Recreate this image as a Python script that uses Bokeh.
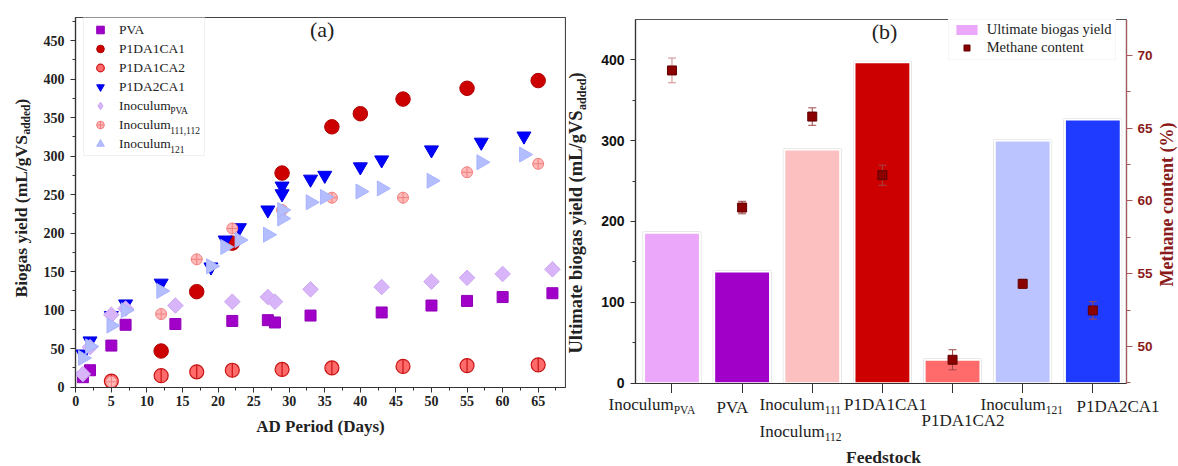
import numpy as np
from bokeh.plotting import figure
from bokeh.models import (ColumnDataSource, Range1d, LinearAxis, SingleIntervalTicker,
                          FixedTicker, Legend, LegendItem, Label)
from bokeh.layouts import row, column
from bokeh.embed import file_html
from bokeh.resources import INLINE

# ---------------- Panel (a) data: cumulative biogas yield ----------------
pva_day = [1, 2, 5, 7, 14, 22, 27, 28, 33, 43, 50, 55, 60, 67]
pva_yield = [13, 22, 54, 81, 82, 86, 87, 84, 93, 97, 106, 112, 117, 122]

p1da1ca1_day = [12, 17, 22, 29, 36, 40, 46, 55, 65]
p1da1ca1_yield = [47, 124, 187, 278, 338, 355, 374, 388, 398]

p1da1ca2_day = [5, 12, 17, 22, 29, 36, 46, 55, 65]
p1da1ca2_yield = [8, 15, 20, 22, 23, 25, 27, 28, 29]

p1da2ca1_day = [1, 2, 5, 7, 12, 19, 21, 23, 27, 29, 29, 33, 35, 40, 43, 50, 57, 63]
p1da2ca1_yield = [43, 60, 93, 108, 135, 156, 191, 207, 230, 261, 251, 270, 275, 286, 295, 308, 318, 326]

inocpva_day = [1, 2, 5, 7, 14, 22, 27, 28, 33, 43, 50, 55, 60, 67]
inocpva_yield = [17, 52, 94, 102, 106, 111, 117, 111, 127, 130, 137, 142, 147, 153]

inoc111_day = [5, 12, 17, 22, 29, 36, 46, 55, 65]
inoc111_yield = [7, 95, 166, 206, 230, 246, 246, 279, 290]

inoc121_day = [1, 2, 5, 7, 12, 19, 21, 23, 27, 29, 29, 33, 35, 40, 43, 50, 57, 63]
inoc121_yield = [38, 53, 80, 100, 125, 157, 182, 191, 198, 219, 230, 240, 247, 254, 258, 268, 292, 302]

# ---------------- Panel (b) data ----------------
feedstock = ["Inoculum_PVA", "PVA", "Inoculum_111/112", "P1DA1CA1", "P1DA1CA2", "Inoculum_121", "P1DA2CA1"]
ultimate_yield = [186, 138, 289, 397, 29, 300, 326]
methane = [68.97, 59.55, 65.8, 61.77, 49.09, 54.31, 52.48]
methane_err = [0.85, 0.43, 0.6, 0.69, 0.69, 0.3, 0.6]

# tick label texts (main part, subscript part)
xb_main = ["Inoculum", "PVA", "Inoculum", "P1DA1CA1", "P1DA1CA2", "Inoculum", "P1DA2CA1", "Inoculum"]
xb_sub = ["PVA", "", "111", "", "", "121", "", "112"]
legend_a_labels = ["PVA", "P1DA1CA1", "P1DA1CA2", "P1DA2CA1", "Inoculum", "Inoculum", "Inoculum"]
legend_a_subs = ["PVA", "111,112", "121"]

# ---------------- layout constants (pixels, window coordinates) ----------------
W, H = 1178, 466
A_LEFT, A_TOP, A_W, A_H = 75, 17, 490, 370
B_LEFT, B_TOP, B_W, B_H = 634, 19, 495, 364
YL1_W = 32                 # text strip left of panel (a)
YL2_X0, YL2_W = 566, 32    # text strip left of panel (b)
B_BOT = 10                 # bottom border of panel (b) (tick marks)
R_X0 = 1155                # text strip right of panel (b)
XL2_Y0 = B_TOP + B_H + B_BOT   # text strip below panel (b)
SERIF = "Liberation Serif"
SANS = "Liberation Sans"
INK = "#222222"
SHIFT = {"alphabetic": 0.27, "middle": 0.18}

# tick label placement (window px: start x, baseline y)
xb_pos_x = [608, 716, 759, 843.5, 921, 980, 1076, 759]
xb_pos_y = [408.5, 412, 408.5, 409, 424.5, 409, 410.5, 435.5]
INOC_W = 65.2  # width of "Inoculum" at 17px serif


def text_fig(w, h, top=0, bottom=0):
    f = figure(width=w, height=h, x_range=Range1d(0, w), y_range=Range1d(0, h - top - bottom),
               min_border=0, min_border_left=0, min_border_right=0, min_border_top=top,
               min_border_bottom=bottom, x_axis_location=None, y_axis_location=None,
               toolbar_location=None, output_backend="svg")
    f.outline_line_color = None
    f.grid.visible = False
    f.background_fill_color = "white"
    f.border_fill_color = "white"
    return f


def lab(p, x0, fbottom, xr, yr, text, size, bold=False, color=INK, rotated=False,
        align="left", baseline="alphabetic", font=SERIF, level="annotation"):
    """Place a text at window position (xr, yr) inside figure p whose frame starts at x0
    and whose frame bottom is at window y = fbottom."""
    d = SHIFT[baseline] * size
    if rotated:
        xr = xr - d
    else:
        yr = yr - d
    p.add_layout(Label(x=xr - x0, y=fbottom - yr, x_units="screen", y_units="screen",
                       text=text, text_font=font, text_font_size=f"{size}px",
                       text_font_style="bold" if bold else "normal", text_color=color,
                       angle=np.pi / 2 if rotated else 0.0, text_align=align,
                       text_baseline=baseline, level=level))


def style_axis(ax, color="#333333", label_font=SERIF, label_size="14px", label_color=INK):
    ax.axis_line_color = color
    ax.axis_line_width = 1.2
    ax.major_tick_line_color = color
    ax.minor_tick_line_color = color
    ax.major_tick_in = 0
    ax.major_tick_out = 5
    ax.minor_tick_in = 0
    ax.minor_tick_out = 3
    ax.major_label_text_font = label_font
    ax.major_label_text_font_style = "bold"
    ax.major_label_text_font_size = label_size
    ax.major_label_text_color = label_color


# =============================== Panel (a) ===============================
p1 = figure(width=566 - YL1_W, height=H,
            min_border_left=A_LEFT - YL1_W, min_border_right=566 - A_LEFT - A_W,
            min_border_top=A_TOP, min_border_bottom=H - A_TOP - A_H,
            x_range=Range1d(-0.04, 68.84), y_range=Range1d(-0.4, 479.9),
            output_backend="svg", toolbar_location=None)
p1.grid.visible = False
p1.outline_line_color = "#444444"
p1.outline_line_width = 1.2
p1.background_fill_color = "white"
p1.border_fill_color = "white"

style_axis(p1.xaxis[0])
style_axis(p1.yaxis[0])
p1.xaxis[0].ticker = SingleIntervalTicker(interval=5, num_minor_ticks=2)
p1.yaxis[0].ticker = SingleIntervalTicker(interval=50, num_minor_ticks=2)
p1.xaxis[0].major_label_standoff = 3
p1.yaxis[0].major_label_standoff = 6
p1.xaxis[0].axis_label = "AD Period (Days)"
p1.xaxis[0].axis_label_text_font = SERIF
p1.xaxis[0].axis_label_text_font_style = "bold"
p1.xaxis[0].axis_label_text_font_size = "17px"
p1.xaxis[0].axis_label_text_color = INK
p1.xaxis[0].axis_label_standoff = 8

r_pva = p1.scatter(pva_day, pva_yield, marker="square", size=11,
                   fill_color="#A000C8", line_color="#9000B8")
r_c1 = p1.scatter(p1da1ca1_day, p1da1ca1_yield, marker="circle", size=14.5,
                  fill_color="#CC0000", line_color="#B00000")
r_c2 = p1.scatter(p1da1ca2_day, p1da1ca2_yield, marker="circle", size=14,
                  fill_color="#FF6A6A", line_color="#C81414", line_width=1.2)
p1.scatter(p1da1ca2_day, p1da1ca2_yield, marker="dash", size=14, angle=np.pi / 2,
           line_color="#C81414", line_width=1.2)
r_c3 = p1.scatter(p1da2ca1_day, p1da2ca1_yield, marker="inverted_triangle", size=14,
                  fill_color="#0000FF", line_color="#0000E0")
p1.scatter(inocpva_day, inocpva_yield, marker="square", size=11, angle=np.pi / 4,
           fill_color="#D8B4F8", line_color="#CDA8F2")
r_i111 = p1.scatter(inoc111_day, inoc111_yield, marker="circle_cross", size=11,
                    fill_color="#FFB8B8", line_color="#F08080")
r_i121 = p1.scatter(inoc121_day, inoc121_yield, marker="triangle", size=15, angle=-np.pi / 2,
                    fill_color="#B4BEFF", line_color="#A8B3FF")
# hidden twin used only for the legend symbol (legend symbols are drawn unrotated)
r_ipva_leg = p1.scatter(inocpva_day, inocpva_yield, marker="diamond", size=11,
                        fill_color="#D8B4F8", line_color="#CDA8F2", visible=False)

leg_renderers = [r_pva, r_c1, r_c2, r_c3, r_ipva_leg, r_i111, r_i121]
LEG_BOTTOM = 156
leg1 = Legend(items=[LegendItem(label=t, renderers=[r])
                     for t, r in zip(legend_a_labels, leg_renderers)],
              location=(8, A_TOP + A_H - LEG_BOTTOM))
leg1.padding = 2
leg1.spacing = 0
leg1.margin = 0
leg1.glyph_width = 28
leg1.glyph_height = 19
leg1.label_height = 19
leg1.label_width = 83
leg1.label_standoff = 5
leg1.label_text_font = SERIF
leg1.label_text_font_size = "13.5px"
leg1.label_text_color = INK
leg1.border_line_color = "#E4E4E4"
leg1.background_fill_alpha = 0.0
leg1.inactive_fill_alpha = 0.0
p1.add_layout(leg1)

# subscripts of legend entries
leg_top = LEG_BOTTOM - (2 * 2 + 7 * 19)
for k, s in enumerate(legend_a_subs):
    cy = leg_top + 2 + 9.5 + 19 * (4 + k)
    lab(p1, A_LEFT, A_TOP + A_H, A_LEFT + 8 + 2 + 28 + 5 + 51.7, cy + 7, s, 9.5)

lab(p1, A_LEFT, A_TOP + A_H, 321.7, 33, "(a)", 22, align="center", baseline="middle")

# y label strip for panel (a)
t1 = text_fig(YL1_W, H, top=A_TOP, bottom=H - A_TOP - A_H)
FB1 = A_TOP + A_H
ylab_start = 297
lab(t1, 0, FB1, 25, ylab_start, "Biogas yield (mL/gVS", 17.5, bold=True, rotated=True)
lab(t1, 0, FB1, 29, ylab_start - 162.9, "added", 11.5, bold=True, rotated=True)
lab(t1, 0, FB1, 25, ylab_start - 162.9 - 30.2, ")", 17.5, bold=True, rotated=True)

# =============================== Panel (b) ===============================
p2 = figure(width=R_X0 - YL2_X0 - YL2_W, height=XL2_Y0,
            min_border_left=B_LEFT - YL2_X0 - YL2_W, min_border_right=R_X0 - B_LEFT - B_W,
            min_border_top=B_TOP, min_border_bottom=B_BOT,
            x_range=Range1d(-0.52, 6.48), y_range=Range1d(-0.4, 449.8),
            output_backend="svg", toolbar_location=None)
p2.grid.visible = False
p2.outline_line_color = "#555555"
p2.outline_line_width = 1.2
p2.background_fill_color = "white"
p2.border_fill_color = "white"
p2.extra_y_ranges = {"ch4": Range1d(47.46, 72.47)}

xs = list(range(len(feedstock)))
bar_colors = ["#EBA8FA", "#A100C9", "#FCC0C0", "#CC0000", "#FF6B6B", "#BCC4FF", "#1F3BFF"]
bsrc = ColumnDataSource(dict(x=xs, top=ultimate_yield, color=bar_colors))
p2.vbar(x="x", top="top", width=0.796, source=bsrc, fill_color=None,
        line_color="#D6D6D6", line_width=3)
r_bar = p2.vbar(x="x", top="top", width=0.796, source=bsrc, fill_color="color",
                line_color="white", line_width=2)

m = np.array(methane)
e = np.array(methane_err)
err_colors = ["#CC8C8C"] + ["#A04848"] * (len(methane) - 1)
esrc = ColumnDataSource(dict(x=xs, y=methane, lo=m - e, hi=m + e, c=err_colors))
p2.segment(x0="x", y0="lo", x1="x", y1="hi", source=esrc, line_color="c", line_width=1,
           y_range_name="ch4")
p2.scatter(x="x", y="hi", source=esrc, marker="dash", size=8, line_color="c",
           y_range_name="ch4")
p2.scatter(x="x", y="lo", source=esrc, marker="dash", size=8, line_color="c",
           y_range_name="ch4")
r_ch4 = p2.scatter(x="x", y="y", source=esrc, marker="square", size=9,
                   fill_color="#8B0000", line_color="#600000", y_range_name="ch4")

ya = p2.yaxis[0]
style_axis(ya, label_font=SANS, label_size="14px", label_color="#111111")
ya.ticker = SingleIntervalTicker(interval=100, num_minor_ticks=2)
ya.major_label_standoff = 6

# bottom axis: tick marks only (labels are drawn in the strip below)
xa = p2.xaxis[0]
xa.ticker = FixedTicker(ticks=[], minor_ticks=xs)
xa.axis_line_color = "#333333"
xa.axis_line_width = 1.2
xa.major_tick_line_color = None
xa.minor_tick_line_color = "#333333"
xa.minor_tick_in = 0
xa.minor_tick_out = B_BOT
xa.major_tick_out = 0
xa.major_label_standoff = 0

ra = LinearAxis(y_range_name="ch4", ticker=SingleIntervalTicker(interval=5, num_minor_ticks=2))
style_axis(ra, color="#A85A5A", label_font=SANS, label_size="13.5px", label_color="#8B1A1A")
ra.major_tick_out = 6
ra.minor_tick_out = 4
ra.major_label_standoff = 5
p2.add_layout(ra, "right")

leg2 = Legend(items=[
    LegendItem(label="Ultimate biogas yield", renderers=[r_bar], index=0),
    LegendItem(label="Methane content", renderers=[r_ch4], index=0),
], location=(946.7 - B_LEFT, B_TOP + B_H - 60))
leg2.padding = 3
leg2.spacing = 1
leg2.margin = 0
leg2.glyph_width = 29
leg2.glyph_height = 15
leg2.label_height = 16
leg2.label_standoff = 6
leg2.label_text_font = SERIF
leg2.label_text_font_size = "14.5px"
leg2.label_text_color = INK
leg2.border_line_color = "#EDEDED"
leg2.background_fill_color = "white"
p2.add_layout(leg2)

FB2 = B_TOP + B_H
lab(p2, B_LEFT, FB2, 883, 35, "(b)", 22, align="center", baseline="middle")

# y label strip for panel (b)
t2 = text_fig(YL2_W, XL2_Y0, top=B_TOP, bottom=B_BOT)
yl2 = 353
lab(t2, YL2_X0, FB2, 580, yl2, "Ultimate biogas yield (mL/gVS", 18.5, bold=True, rotated=True)
lab(t2, YL2_X0, FB2, 585, yl2 - 243.6, "added", 12, bold=True, rotated=True)
lab(t2, YL2_X0, FB2, 580, yl2 - 243.6 - 31.5, ")", 18.5, bold=True, rotated=True)

# right label strip (methane content)
t3 = text_fig(W - R_X0, XL2_Y0, top=B_TOP, bottom=B_BOT)
lab(t3, R_X0, FB2, 1170, 204, "Methane content (%)", 18, bold=True, rotated=True,
    align="center", baseline="middle", color="#8B1A1A")

# bottom strip: category labels and axis title
t4 = text_fig(W - YL2_X0, H - XL2_Y0)
for main, sub, xr, yr in zip(xb_main, xb_sub, xb_pos_x, xb_pos_y):
    lab(t4, YL2_X0, H, xr, yr, main, 17)
    if sub:
        lab(t4, YL2_X0, H, xr + INOC_W, yr + 4, sub, 11.5)
lab(t4, YL2_X0, H, 883, 461, "Feedstock", 17.5, bold=True, align="center")

left_block = row(t1, p1)
right_block = column(row(t2, p2, t3), t4)
layout = row(left_block, right_block)
open("out.html", "w").write(file_html(layout, INLINE))
